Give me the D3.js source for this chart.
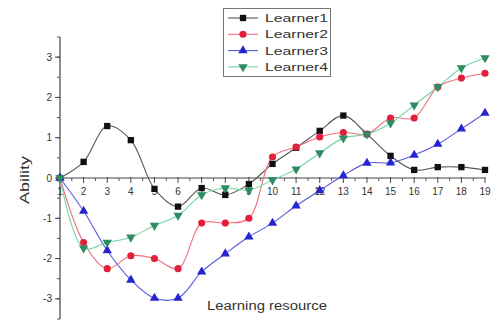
<!DOCTYPE html>
<html>
<head>
<meta charset="utf-8">
<script src="https://cdn.jsdelivr.net/npm/d3@7"></script>
<style>
  body { margin: 0; background: #fff; }
  text { font-family: "Liberation Sans", Arial, sans-serif; fill: #333; }
</style>
</head>
<body>
<svg id="chart" width="503" height="320"></svg>
<script>
"use strict";

// learning resource index
var resources = d3.range(1, 20);

var learner1 = [0, 0.4, 1.29, 0.94, -0.27, -0.71, -0.25, -0.42, -0.15, 0.35, 0.75, 1.17, 1.55, 1.09, 0.55, 0.2, 0.27, 0.27, 0.2];
var learner2 = [0, -1.6, -2.25, -1.93, -2.0, -2.25, -1.12, -1.12, -1.0, 0.52, 0.77, 1.02, 1.13, 1.09, 1.49, 1.49, 2.26, 2.48, 2.6];
var learner3 = [0, -0.82, -1.8, -2.53, -2.98, -2.98, -2.33, -1.88, -1.46, -1.12, -0.69, -0.31, 0.06, 0.37, 0.38, 0.57, 0.84, 1.22, 1.61];
var learner4 = [0, -1.74, -1.6, -1.47, -1.18, -0.93, -0.42, -0.25, -0.3, -0.05, 0.22, 0.62, 0.99, 1.09, 1.36, 1.81, 2.26, 2.73, 2.98];

var seriesNames = ["Learner1", "Learner2", "Learner3", "Learner4"];
var yTicks = [-3, -2, -1, 0, 1, 2, 3];

var series = [
    { name: seriesNames[0], values: learner1, marker: "#111", line: "#555", symbol: d3.symbolSquare, size: 40, rot: 0 },
    { name: seriesNames[1], values: learner2, marker: "#e3203c", line: "#f0707e", symbol: d3.symbolCircle, size: 40, rot: 0 },
    { name: seriesNames[2], values: learner3, marker: "#2525cf", line: "#5757e0", symbol: d3.symbolTriangle, size: 38, rot: 0 },
    { name: seriesNames[3], values: learner4, marker: "#2e8c62", line: "#6fd6a6", symbol: d3.symbolTriangle, size: 38, rot: 180 }
];

var svg = d3.select("#chart");

var x = d3.scaleLinear().domain([1, 19]).range([60, 485]);
var y = d3.scaleLinear().domain([-3.5, 3.5]).range([319, 37]);

// y axis
var yAxis = svg.append("g");
yAxis.append("line")
    .attr("x1", x(1)).attr("x2", x(1))
    .attr("y1", y(3.5)).attr("y2", y(-3.5))
    .attr("stroke", "#444").attr("stroke-width", 1.2);
yAxis.selectAll(".minor").data(d3.range(-3.5, 3.6, 0.5))
    .enter().append("line")
    .attr("x1", x(1) - 3).attr("x2", x(1))
    .attr("y1", function (d) { return y(d); })
    .attr("y2", function (d) { return y(d); })
    .attr("stroke", "#555");
yAxis.selectAll(".major").data(yTicks)
    .enter().append("line")
    .attr("x1", x(1) - 5).attr("x2", x(1))
    .attr("y1", function (d) { return y(d); })
    .attr("y2", function (d) { return y(d); })
    .attr("stroke", "#444");
yAxis.selectAll("text").data(yTicks)
    .enter().append("text")
    .attr("x", x(1) - 8)
    .attr("y", function (d) { return y(d) + 3.5; })
    .attr("text-anchor", "end")
    .attr("font-size", 10)
    .text(function (d) { return d; });

// x axis through zero
var xAxis = svg.append("g");
xAxis.append("line")
    .attr("x1", x(1)).attr("x2", x(19))
    .attr("y1", y(0)).attr("y2", y(0))
    .attr("stroke", "#444").attr("stroke-width", 1.2);
xAxis.selectAll(".minor").data(d3.range(1.5, 19, 1))
    .enter().append("line")
    .attr("x1", function (d) { return x(d); })
    .attr("x2", function (d) { return x(d); })
    .attr("y1", y(0)).attr("y2", y(0) + 3)
    .attr("stroke", "#555");
xAxis.selectAll(".major").data(resources)
    .enter().append("line")
    .attr("x1", function (d) { return x(d); })
    .attr("x2", function (d) { return x(d); })
    .attr("y1", y(0) - 1).attr("y2", y(0) + 5)
    .attr("stroke", "#444");
xAxis.selectAll("text").data(resources)
    .enter().append("text")
    .attr("x", function (d) { return x(d); })
    .attr("y", y(0) + 17)
    .attr("text-anchor", "middle")
    .attr("font-size", 10)
    .text(function (d) { return d; });

// axis titles
svg.append("text")
    .attr("transform", "translate(29,180) rotate(-90)")
    .attr("text-anchor", "middle")
    .attr("font-size", 12)
    .attr("textLength", 48).attr("lengthAdjust", "spacingAndGlyphs")
    .text("Ability");
svg.append("text")
    .attr("x", 267).attr("y", 310)
    .attr("text-anchor", "middle")
    .attr("font-size", 12)
    .attr("textLength", 120).attr("lengthAdjust", "spacingAndGlyphs")
    .text("Learning resource");

// lines
var line = d3.line()
    .x(function (d, i) { return x(resources[i]); })
    .y(function (d) { return y(d); })
    .curve(d3.curveCatmullRom.alpha(0.5));

series.forEach(function (s) {
    svg.append("path")
        .attr("d", line(s.values))
        .attr("fill", "none")
        .attr("stroke", s.line)
        .attr("stroke-width", 1.1);
});

series.forEach(function (s) {
    var sym = d3.symbol().type(s.symbol).size(s.size);
    svg.append("g").selectAll("path").data(s.values)
        .enter().append("path")
        .attr("d", sym)
        .attr("transform", function (d, i) {
            return "translate(" + x(resources[i]) + "," + y(d) + ") rotate(" + s.rot + ")";
        })
        .attr("fill", s.marker);
});

// legend
var legend = svg.append("g");
legend.append("rect")
    .attr("x", 223.5).attr("y", 8.5)
    .attr("width", 107).attr("height", 68)
    .attr("fill", "#fff").attr("stroke", "#777");
series.forEach(function (s, i) {
    var ly = 18 + i * 16.3;
    legend.append("line")
        .attr("x1", 228).attr("x2", 258)
        .attr("y1", ly).attr("y2", ly)
        .attr("stroke", s.line).attr("stroke-width", 1.1);
    legend.append("path")
        .attr("d", d3.symbol().type(s.symbol).size(s.size))
        .attr("transform", "translate(243," + ly + ") rotate(" + s.rot + ")")
        .attr("fill", s.marker);
    legend.append("text")
        .attr("x", 265).attr("y", ly + 4)
        .attr("font-size", 11)
        .attr("textLength", 63).attr("lengthAdjust", "spacingAndGlyphs")
        .text(s.name);
});
</script>
</body>
</html>
